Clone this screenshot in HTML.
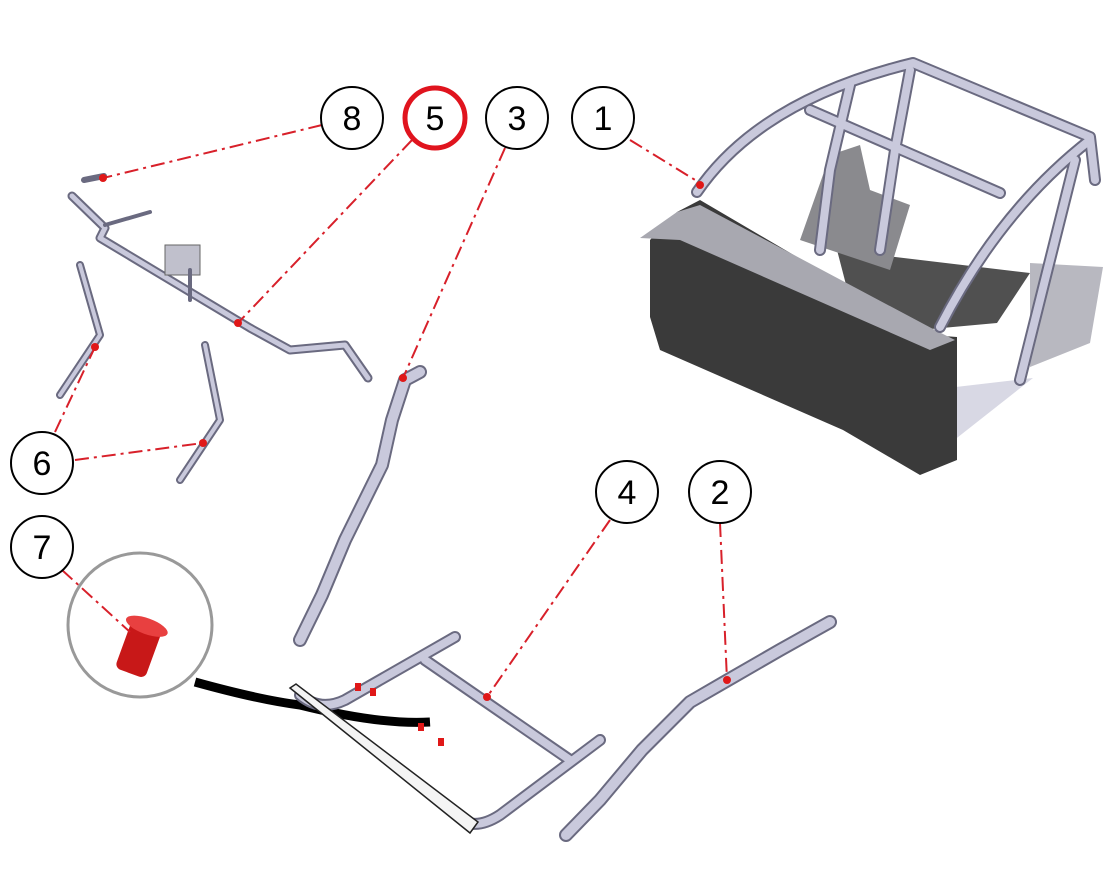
<!DOCTYPE html>
<html><head><meta charset="utf-8"><style>
html,body{margin:0;padding:0;background:#fff;}
svg{display:block;}
text{font-family:"Liberation Sans",sans-serif;font-size:34px;text-anchor:middle;}
.lead{stroke:#d8202a;stroke-width:2;stroke-dasharray:14 5 3 5;fill:none;}
.tO{stroke:#6a6a80;stroke-linecap:round;stroke-linejoin:round;fill:none;}
.tI{stroke:#c9c9dc;stroke-linecap:round;stroke-linejoin:round;fill:none;}
</style></head><body>
<svg width="1120" height="894" viewBox="0 0 1120 894">
<!-- car body -->
<polygon points="1030,263 1103,267 1090,343 1030,367" fill="#b8b8c0"/>
<polygon points="930,390 1033,378 920,467" fill="#d8d8e4"/>
<polygon points="837,250 1030,273 997,323 920,330 850,300" fill="#505050"/>
<polygon points="650,240 677,212 700,200 930,335 957,337 957,460 920,475 843,430 740,385 660,350 650,317" fill="#3a3a3a"/>
<polygon points="640,238 677,212 700,205 935,330 955,340 930,350 680,240" fill="#a8a8b0"/>
<polygon points="800,240 830,155 860,145 870,190 910,205 890,270 830,250" fill="#8a8a8e"/>
<g class="tO" stroke-width="12">
<path d="M697,192 Q760,100 913,63 L1090,137 L1095,180"/>
<path d="M810,110 L1000,193"/>
<path d="M1090,140 Q1000,210 940,327"/>
<path d="M1075,160 Q1050,260 1020,380"/>
<path d="M850,85 L830,170 L820,250"/>
<path d="M910,70 L895,150 L880,250"/>
</g>
<g class="tI" stroke-width="8">
<path d="M697,192 Q760,100 913,63 L1090,137 L1095,180"/>
<path d="M810,110 L1000,193"/>
<path d="M1090,140 Q1000,210 940,327"/>
<path d="M1075,160 Q1050,260 1020,380"/>
<path d="M850,85 L830,170 L820,250"/>
<path d="M910,70 L895,150 L880,250"/>
</g>
<!-- part 5 bar -->
<g>
<path class="tO" stroke-width="9" d="M72,196 L105,228 L100,238 L250,328 L290,350 L345,345 L368,378"/>
<path class="tI" stroke-width="5" d="M72,196 L105,228 L100,238 L250,328 L290,350 L345,345 L368,378"/>
<path class="tO" stroke-width="6" d="M84,180 L104,176"/>
<rect x="165" y="245" width="35" height="30" fill="#c0c0cc" stroke="#666"/>
<path class="tO" stroke-width="4" d="M190,270 L190,300 M105,225 L150,212"/>
</g>
<!-- part 6 brackets -->
<path class="tO" stroke-width="8" d="M80,265 L100,335 L60,395"/>
<path class="tI" stroke-width="4" d="M80,265 L100,335 L60,395"/>
<path class="tO" stroke-width="8" d="M205,345 L220,420 L180,480"/>
<path class="tI" stroke-width="4" d="M205,345 L220,420 L180,480"/>
<!-- part 3 -->
<path class="tO" stroke-width="14" d="M420,372 L405,380 L392,420 L382,465 L345,540 L322,595 L300,640"/>
<path class="tI" stroke-width="10" d="M420,372 L405,380 L392,420 L382,465 L345,540 L322,595 L300,640"/>
<!-- part 2 -->
<path class="tO" stroke-width="14" d="M830,622 L780,650 L728,680 L690,702 L642,750 L600,800 L566,835"/>
<path class="tI" stroke-width="10" d="M830,622 L780,650 L728,680 L690,702 L642,750 L600,800 L566,835"/>
<!-- part 4 frame -->
<path d="M195,682 Q260,700 300,705 Q380,725 430,722" stroke="#000" stroke-width="9" fill="none"/>
<g class="tO" stroke-width="12">
<path d="M455,637 L345,700 Q320,712 300,695"/>
<path d="M425,660 L570,760"/>
<path d="M600,740 L500,815 Q480,828 465,822"/>
</g>
<g class="tI" stroke-width="8">
<path d="M455,637 L345,700 Q320,712 300,695"/>
<path d="M425,660 L570,760"/>
<path d="M600,740 L500,815 Q480,828 465,822"/>
</g>
<polygon points="290,688 296,684 478,822 470,833" fill="#f4f4f4" stroke="#222" stroke-width="1.5"/>
<!-- part 7 detail -->
<circle cx="140" cy="625" r="72" fill="#fff" stroke="#999" stroke-width="3"/>
<g transform="rotate(20 140 645)">
<rect x="124" y="625" width="32" height="50" rx="6" fill="#c81818"/>
<ellipse cx="140" cy="625" rx="22" ry="8" fill="#e84040"/>
</g>
<!-- leaders -->
<path class="lead" d="M322,125 L103,178"/>
<path class="lead" d="M412,140 L238,323"/>
<path class="lead" d="M505,148 L403,378"/>
<path class="lead" d="M630,140 L700,183"/>
<path class="lead" d="M610,520 L487,697"/>
<path class="lead" d="M720,523 L727,680"/>
<path class="lead" d="M55,432 L95,347"/>
<path class="lead" d="M75,460 L203,443"/>
<path class="lead" d="M62,570 L130,632"/>
<g fill="#e01818">
<circle cx="103" cy="178" r="4"/><circle cx="238" cy="323" r="4"/><circle cx="403" cy="378" r="4"/>
<circle cx="700" cy="185" r="4"/><circle cx="487" cy="697" r="4"/><circle cx="727" cy="680" r="4"/>
<circle cx="95" cy="347" r="4"/><circle cx="203" cy="443" r="4"/>
<rect x="355" y="683" width="6" height="8"/><rect x="370" y="688" width="6" height="8"/>
<rect x="418" y="723" width="6" height="8"/><rect x="438" y="738" width="6" height="8"/>
</g>
<!-- callouts -->
<g fill="#fff" stroke="#000" stroke-width="2">
<circle cx="352" cy="118" r="31"/>
<circle cx="517" cy="118" r="31"/>
<circle cx="603" cy="118" r="31"/>
<circle cx="627" cy="492" r="31"/>
<circle cx="720" cy="492" r="31"/>
<circle cx="42" cy="463" r="31"/>
<circle cx="42" cy="547" r="31"/>
</g>
<circle cx="435" cy="118" r="30" fill="#fff" stroke="#e0141e" stroke-width="5"/>
<text x="352" y="130">8</text><text x="435" y="130">5</text><text x="517" y="130">3</text>
<text x="603" y="130">1</text><text x="627" y="504">4</text><text x="720" y="504">2</text>
<text x="42" y="475">6</text><text x="42" y="559">7</text>
</svg>
</body></html>
